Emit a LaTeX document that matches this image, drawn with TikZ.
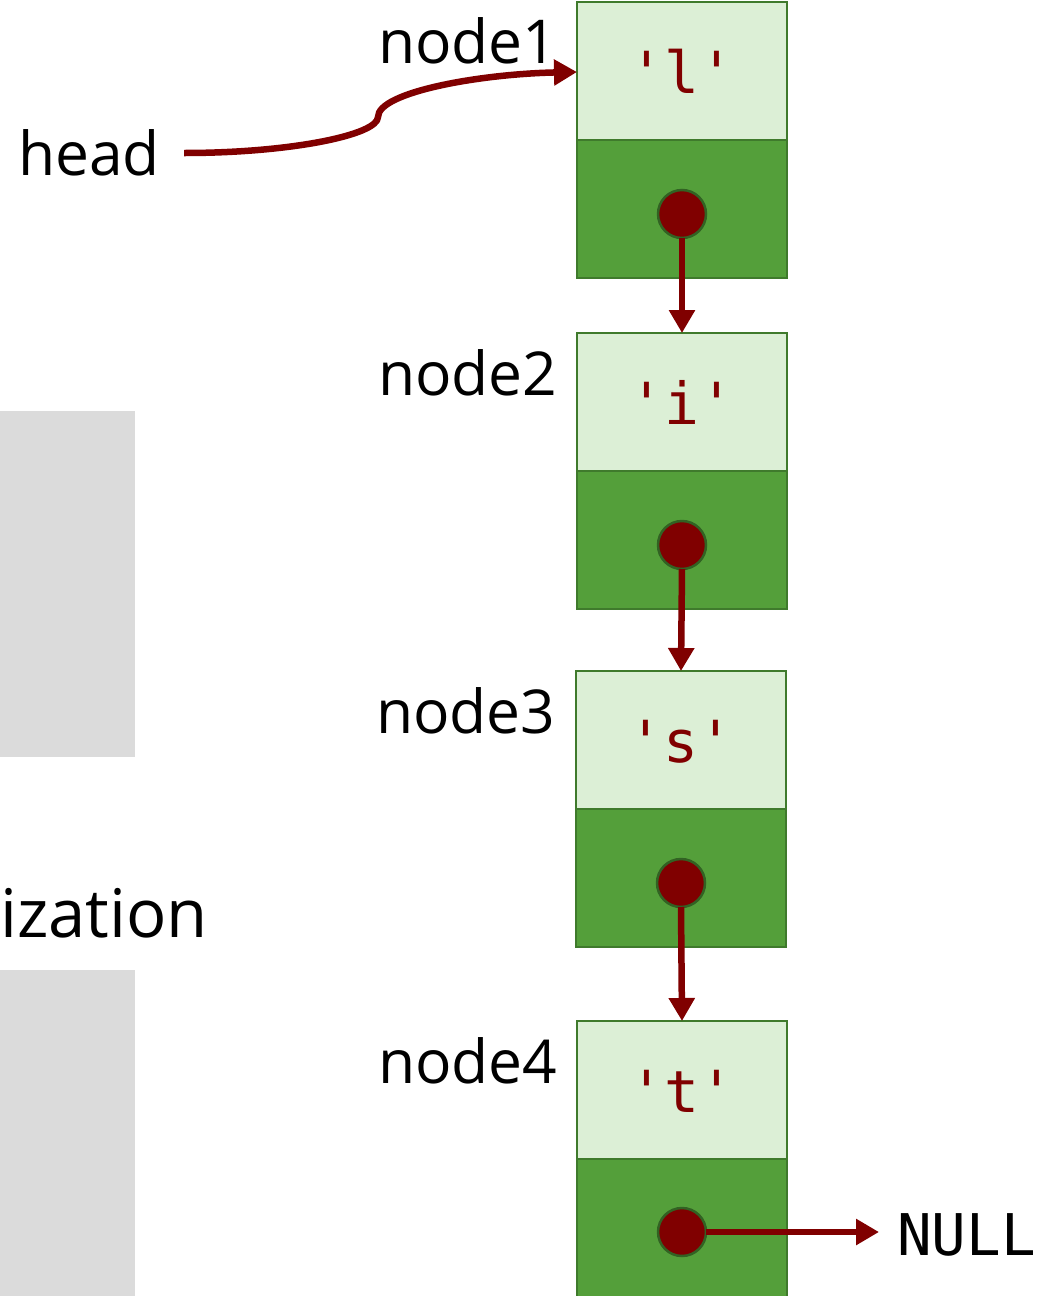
\documentclass[tikz,border=0pt]{standalone}
\usepackage{fontspec}
\setmainfont{Open Sans}
\setmonofont{DejaVu Sans Mono}
\usetikzlibrary{arrows.meta}
\definecolor{ptrred}{HTML}{800000}
\definecolor{lightg}{HTML}{DCEFD6}
\definecolor{darkg}{HTML}{549F3A}
\definecolor{edgeg}{HTML}{3F7A2C}
\definecolor{panelgray}{HTML}{DBDBDB}
\begin{document}
\begin{tikzpicture}[x=1pt,y=-1pt,
  valbox/.style={draw=edgeg,line width=2.5pt,fill=lightg,minimum width=210pt,minimum height=138pt,inner sep=0pt,outer sep=0pt,anchor=north west},
  ptrbox/.style={draw=edgeg,line width=2.5pt,fill=darkg,minimum width=210pt,minimum height=138pt,inner sep=0pt,outer sep=0pt,anchor=north west},
  dot/.style={circle,fill=ptrred,draw=edgeg!80!black,line width=2.5pt,minimum size=48pt,inner sep=0pt,outer sep=0pt},
  valtxt/.style={text=ptrred,font=\ttfamily\fontsize{58}{60}\selectfont,anchor=base,inner sep=0pt},
  lbl/.style={font=\fontsize{60.5}{62}\selectfont,anchor=base west,inner sep=0pt},
  ptr/.style={draw=ptrred,line width=6.5pt,-{Triangle[length=23pt,width=25pt]}},
  panel/.style={fill=panelgray,draw=none}
]
\useasboundingbox (0,0) rectangle (1060,1296);
\fill[panel] (0,411) rectangle (135,757);
\fill[panel] (0,970) rectangle (135,1296);
\node[font=\fontsize{67}{69}\selectfont,anchor=base east,inner sep=0pt] (viz) at (208,937) {ization};

% list nodes
\node[valbox] (n1v) at (577,2) {};
\node[ptrbox] (n1p) at (577,140) {};
\node[valbox] (n2v) at (577,333) {};
\node[ptrbox] (n2p) at (577,471) {};
\node[valbox] (n3v) at (576,671) {};
\node[ptrbox] (n3p) at (576,809) {};
\node[valbox] (n4v) at (577,1021) {};
\node[ptrbox] (n4p) at (577,1159) {};

\node[valtxt] (t1) at (682,93) {'l'};
\node[valtxt] (t2) at (682,424) {'i'};
\node[valtxt] (t3) at (681,762) {'s'};
\node[valtxt] (t4) at (682,1112) {'t'};

\node[dot] (c1) at (682,214) {};
\node[dot] (c2) at (682,545) {};
\node[dot] (c3) at (681,883) {};
\node[dot] (c4) at (682,1232) {};

\node[lbl] (l1) at (378,63) {node1};
\node[lbl] (l2) at (378,395) {node2};
\node[lbl] (l3) at (376,733) {node3};
\node[lbl] (l4) at (378,1083) {node4};
\node[lbl] (head) at (18,175) {head};
\node[font=\ttfamily\fontsize{57.5}{59}\selectfont,anchor=base west,inner sep=0pt] (null) at (897,1255) {NULL};

% pointers
\draw[ptr] (c1.south) -- (n2v.north);
\draw[ptr] (c2.south) -- (n3v.north);
\draw[ptr] (c3.south) -- (n4v.north);
\draw[ptr] (c4.east) -- ([xshift=-18pt]null.west |- c4);
\draw[ptr] ([xshift=24pt]head.east |- 0,153) .. controls (290,153) and (378,135) .. (378,117)
  .. controls (378,92) and (480,74) .. (n1v.west |- 0,72);
\end{tikzpicture}
\end{document}
